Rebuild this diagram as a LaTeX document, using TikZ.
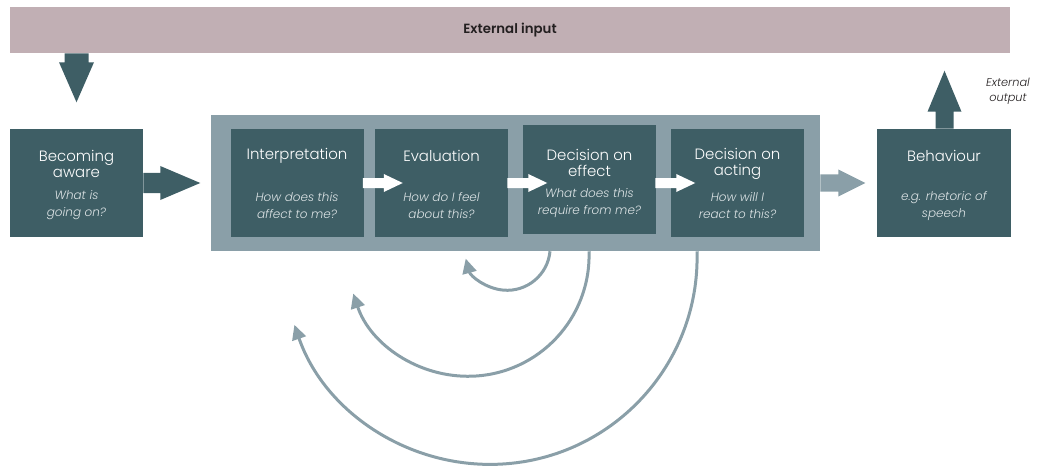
\documentclass[tikz,border=0pt]{standalone}
\usepackage{fontspec}
\setmainfont{Poppins}[UprightFont=* Light, ItalicFont=* Light Italic, BoldFont=* SemiBold]
\usetikzlibrary{arrows.meta}
\definecolor{boxteal}{HTML}{3E5E65}
\definecolor{framegrey}{HTML}{8A9FA8}
\definecolor{barmauve}{HTML}{C1AFB4}
\definecolor{subtext}{HTML}{DCE3E5}
\definecolor{bartext}{HTML}{231F20}
\begin{document}
\begin{tikzpicture}[x=0.75pt,y=-0.75pt,
  stagebox/.style={fill=boxteal, minimum width=99.75pt, minimum height=81pt, inner sep=0pt},
  stagetitle/.style={text=white, font=\fontsize{11.2}{12}\selectfont, align=center, inner sep=0pt},
  question/.style={text=subtext, font=\itshape\fontsize{9}{12.75}\selectfont, align=center, inner sep=0pt},
  feedback/.style={draw=framegrey, line width=2.25pt, -{Triangle[length=11pt,width=10.5pt]}},
]
\path[use as bounding box] (0,0) rectangle (1040,467);

% external input bar
\node[fill=barmauve, minimum width=750pt, minimum height=34.5pt, inner sep=0pt] (bar) at (510,30) {};
\node[font=\bfseries\fontsize{10}{12}\selectfont, text=bartext] (bartxt) at (bar.center) {External input};

% grey frame around the inner stages
\node[fill=framegrey, minimum width=456.75pt, minimum height=102pt, inner sep=0pt] (frame) at (515.5,183) {};

% stage boxes
\node[stagebox] (aware)  at (76.5,183) {};
\node[stagebox] (interp) at (297,183) {};
\node[stagebox] (eval)   at (441.5,183) {};
\node[stagebox] (effect) at (589.5,179.5) {};
\node[stagebox] (acting) at (737.5,183) {};
\node[stagebox, minimum width=100.5pt] (behav) at (944,183) {};

% titles
\node[stagetitle] (awareT)  at (76.5,163.5) {Becoming\\aware};
\node[stagetitle] (interpT) at (297,155.5) {Interpretation};
\node[stagetitle] (evalT)   at (441.5,155.5) {Evaluation};
\node[stagetitle] (effectT) at (589.5,163) {Decision on\\effect};
\node[stagetitle] (actingT) at (737.5,163.5) {Decision on\\acting};
\node[stagetitle] (behavT)  at (944,155.5) {Behaviour};

% questions
\node[question] (awareQ)  at (76.5,205.5) {What is\\going on?};
\node[question] (interpQ) at (297,205.5) {How does this\\affect to me?};
\node[question] (evalQ)   at (441.5,205.5) {How do I feel\\about this?};
\node[question] (effectQ) at (589.5,203.5) {What does this\\require from me?};
\node[question] (actingQ) at (737.5,205.5) {How will I\\react to this?};
\node[question] (behavQ)  at (944,206) {e.g. rhetoric of\\speech};

\node[text=bartext, font=\itshape\fontsize{8.5}{11.25}\selectfont, align=center, inner sep=0pt] (extout) at (1008,91) {External\\output};

% block arrows
\coordinate (inTop) at (aware.north |- bar.south);
\fill[boxteal] (inTop) ++(-12,0) -- ++(24,0) -- ++(0,9) -- ++(5.5,0) -- ++(-17.5,40) -- ++(-17.5,-40) -- ++(5.5,0) -- cycle;
\fill[boxteal] (aware.east) ++(0,-10) -- ++(17,0) -- ++(0,-7) -- ++(40,17) -- ++(-40,17) -- ++(0,-7) -- ++(-17,0) -- cycle;
\foreach \b in {interp, eval} {
  \fill[white] (\b.east) ++(-1,-5) -- ++(21,0) -- ++(0,-4) -- ++(19,9) -- ++(-19,9) -- ++(0,-4) -- ++(-21,0) -- cycle;
}
\fill[white] (effect.east |- acting.west) ++(-1,-5) -- ++(21,0) -- ++(0,-4) -- ++(19,9) -- ++(-19,9) -- ++(0,-4) -- ++(-21,0) -- cycle;
\fill[framegrey] (frame.east) ++(0,-8.5) -- ++(18,0) -- ++(0,-5) -- ++(27,13.5) -- ++(-27,13.5) -- ++(0,-5) -- ++(-18,0) -- cycle;
\fill[boxteal] (behav.north) ++(-8.5,0) -- ++(0,-17) -- ++(-8,0) -- ++(17,-41) -- ++(17,41) -- ++(-8,0) -- ++(0,17) -- cycle;

% feedback loops
\draw[feedback] (550,0 |- frame.south) arc[start angle=5.3, end angle=164.7, radius=43];
\draw[feedback] (589,0 |- frame.south) arc[start angle=-1.9, end angle=161.6, radius=121];
\draw[feedback] (697,0 |- frame.south) arc[start angle=-1.7, end angle=161, radius=207];
\end{tikzpicture}
\end{document}
